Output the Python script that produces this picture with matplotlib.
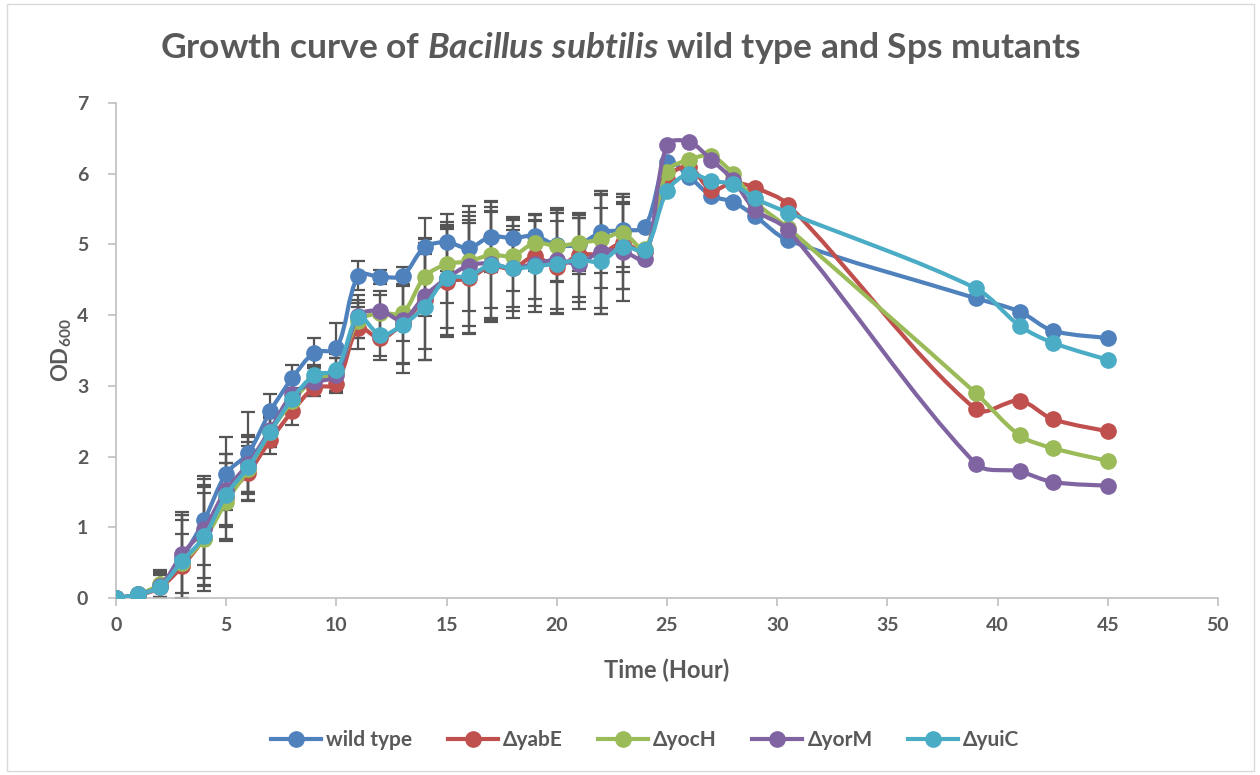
import matplotlib
matplotlib.use("Agg")
import matplotlib.pyplot as plt
from matplotlib.path import Path
from matplotlib.patches import PathPatch, Rectangle
from matplotlib.lines import Line2D
import numpy as np

time = [0, 1, 2, 3, 4, 5, 6, 7, 8, 9, 10, 11, 12, 13, 14, 15, 16, 17, 18, 19, 20,
        21, 22, 23, 24, 25, 26, 27, 28, 29, 30.5, 39, 41, 42.5, 45]

wild_type = [0, 0.05, 0.18, 0.57, 1.10, 1.76, 2.05, 2.64, 3.11, 3.47, 3.53, 4.56, 4.54, 4.56,
             4.96, 5.03, 4.95, 5.11, 5.09, 5.12, 4.99, 5.00, 5.17, 5.20, 5.25, 6.17, 5.96,
             5.69, 5.60, 5.40, 5.06, 4.24, 4.05, 3.78, 3.68]
yabE = [0, 0.04, 0.15, 0.45, 0.85, 1.43, 1.77, 2.23, 2.64, 2.97, 3.03, 3.82, 3.67, 3.88,
        4.22, 4.47, 4.52, 4.69, 4.66, 4.83, 4.68, 4.85, 4.87, 5.02, 4.90, 5.93, 6.10,
        5.77, 5.87, 5.80, 5.56, 2.67, 2.79, 2.53, 2.36]
yocH = [0, 0.05, 0.20, 0.50, 0.83, 1.36, 1.82, 2.35, 2.78, 3.10, 3.20, 3.92, 4.03, 4.03,
        4.54, 4.72, 4.76, 4.85, 4.84, 5.02, 4.98, 5.02, 5.07, 5.16, 4.93, 6.03, 6.20,
        6.25, 6.00, 5.60, 5.23, 2.90, 2.30, 2.12, 1.94]
yorM = [0, 0.05, 0.17, 0.62, 0.98, 1.53, 1.90, 2.38, 2.88, 3.05, 3.15, 3.99, 4.06, 3.93,
        4.27, 4.52, 4.70, 4.73, 4.66, 4.73, 4.78, 4.73, 4.90, 4.90, 4.80, 6.41, 6.45,
        6.20, 5.91, 5.49, 5.20, 1.90, 1.79, 1.64, 1.59]
yuiC = [0, 0.05, 0.16, 0.52, 0.87, 1.46, 1.85, 2.35, 2.82, 3.15, 3.23, 3.98, 3.72, 3.86,
        4.12, 4.52, 4.55, 4.71, 4.66, 4.69, 4.73, 4.78, 4.76, 4.97, 4.92, 5.75, 6.00,
        5.90, 5.85, 5.65, 5.45, 4.38, 3.85, 3.61, 3.37]

zeros_tail = [0] * 10
err_wt = [0, 0, 0.22, 0.65, 0.63, 0.52, 0.58, 0.25, 0.18, 0.20, 0.36, 0.20, 0.10, 0.12,
          0.42, 0.40, 0.45, 0.50, 0.30, 0.30, 0.52, 0.42, 0.58, 0.52, 0] + zeros_tail
err_yabE = [0, 0, 0.20, 0.45, 0.75, 0.60, 0.38, 0.20, 0.20, 0.12, 0.10, 0.30, 0.30, 0.70,
            0.85, 0.78, 0.78, 0.78, 0.70, 0.60, 0.65, 0.60, 0.85, 0.65, 0] + zeros_tail
err_yocH = [0, 0, 0.18, 0.60, 0.65, 0.55, 0.45, 0.22, 0.15, 0.15, 0.20, 0.25, 0.25, 0.40,
            0.55, 0.55, 0.70, 0.75, 0.50, 0.40, 0.50, 0.40, 0.68, 0.55, 0] + zeros_tail
err_yorM = [0, 0, 0.15, 0.55, 0.70, 0.50, 0.40, 0.25, 0.20, 0.20, 0.25, 0.22, 0.28, 0.60,
            0.75, 0.70, 0.85, 0.80, 0.55, 0.60, 0.70, 0.65, 0.80, 0.70, 0] + zeros_tail
err_yuiC = [0, 0, 0.20, 0.65, 0.70, 0.45, 0.35, 0.20, 0.15, 0.15, 0.22, 0.30, 0.30, 0.55,
            0.75, 0.80, 0.80, 0.75, 0.60, 0.65, 0.72, 0.60, 0.75, 0.60, 0] + zeros_tail

labels = ["wild type", "\u0394yabE", "\u0394yocH", "\u0394yorM", "\u0394yuiC"]
series = [wild_type, yabE, yocH, yorM, yuiC]
errors = [err_wt, err_yabE, err_yocH, err_yorM, err_yuiC]
colors = ["#4F81BD", "#C0504D", "#9BBB59", "#8064A2", "#4BACC6"]

x_ticks = [0, 5, 10, 15, 20, 25, 30, 35, 40, 45, 50]
y_ticks = [0, 1, 2, 3, 4, 5, 6, 7]

plt.rcParams["font.family"] = ["Lato", "DejaVu Sans"]
plt.rcParams["mathtext.fontset"] = "custom"
plt.rcParams["mathtext.rm"] = "Lato:bold"
plt.rcParams["mathtext.it"] = "Lato:bold:italic"
plt.rcParams["mathtext.bf"] = "Lato:bold"

txt = "#595959"
fig = plt.figure(figsize=(12.6, 7.75), dpi=100)
ax = fig.add_axes([116 / 1260, 1 - 598 / 775, (1218 - 116) / 1260, (598 - 103) / 775])

# approximate pixel scale for chord-length based smoothing
SX, SY = (1218 - 116) / 50.0, (598 - 103) / 7.0


def smooth_path(xs, ys):
    pts = np.column_stack([np.asarray(xs, float) * SX, np.asarray(ys, float) * SY])
    n = len(pts)
    tang = np.zeros_like(pts)
    for i in range(n):
        if 0 < i < n - 1:
            d0 = np.linalg.norm(pts[i] - pts[i - 1])
            d1 = np.linalg.norm(pts[i + 1] - pts[i])
            u = (pts[i + 1] - pts[i - 1]) / max(d0 + d1, 1e-9)
            tang[i] = u
    verts = [pts[0]]
    codes = [Path.MOVETO]
    f = 0.33
    for i in range(n - 1):
        p1, p2 = pts[i], pts[i + 1]
        d = np.linalg.norm(p2 - p1)
        c1 = p1 + tang[i] * d * f
        c2 = p2 - tang[i + 1] * d * f
        verts += [c1, c2, p2]
        codes += [Path.CURVE4] * 3
    verts = np.array(verts)
    verts[:, 0] /= SX
    verts[:, 1] /= SY
    return Path(verts, codes)


for k, (ys, es, c) in enumerate(zip(series, errors, colors)):
    ax.errorbar(time, ys, yerr=es, fmt="none", ecolor="#555555", elinewidth=1.6,
                capsize=5, capthick=1.6, zorder=2)
for k, (ys, c) in enumerate(zip(series, colors)):
    patch = PathPatch(smooth_path(time, ys), facecolor="none", edgecolor=c,
                      linewidth=3.0, zorder=3 + k, capstyle="round", joinstyle="round")
    ax.add_patch(patch)
    ax.plot(time, ys, linestyle="none", marker="o", markersize=11, color=c,
            zorder=3 + k)

ax.set_xlim(0, 50)
ax.set_ylim(0, 7)
ax.set_xticks(x_ticks)
ax.set_yticks(y_ticks)
for s in ["top", "right"]:
    ax.spines[s].set_visible(False)
for s in ["left", "bottom"]:
    ax.spines[s].set_color("#BFBFBF")
    ax.spines[s].set_linewidth(1.2)
ax.tick_params(axis="both", colors="#BFBFBF", labelcolor=txt, length=6, width=1.2,
               labelsize=14)
for lab in ax.get_xticklabels() + ax.get_yticklabels():
    lab.set_fontweight("bold")
ax.tick_params(axis="y", pad=14)
ax.tick_params(axis="x", pad=8)

ax.set_xlabel("Time (Hour)", fontsize=17, fontweight="bold", color=txt, labelpad=17)
ax.set_ylabel("OD$_{\\mathrm{600}}$", fontsize=16, fontweight="bold", color=txt, labelpad=2)

fig.text(0.492, 1 - 48 / 775,
         "Growth curve of $\\mathit{Bacillus\\ subtilis}$ wild type and Sps mutants",
         ha="center", va="center", fontsize=25.5, fontweight="bold", color=txt)

handles = [Line2D([0], [0], color=c, lw=3.0, marker="o", markersize=11) for c in colors]
leg = fig.legend(handles, labels, loc="center", bbox_to_anchor=(0.512, 1 - 740 / 775),
                 ncol=5, frameon=False, prop={"weight": "bold", "size": 15},
                 handlelength=2.4, columnspacing=1.7, handletextpad=0.25)
for t in leg.get_texts():
    t.set_color(txt)

fig.patches.append(Rectangle((7 / 1260, 4 / 775), 1247 / 1260, 767 / 775,
                             transform=fig.transFigure, fill=False,
                             edgecolor="#D9D9D9", linewidth=1.0))

fig.savefig("out.png", dpi=100)
